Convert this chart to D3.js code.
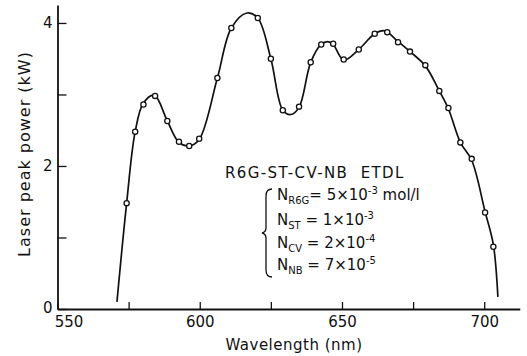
<!DOCTYPE html>
<html>
<head>
<meta charset="utf-8">
<script src="https://cdn.jsdelivr.net/npm/d3@7"></script>
<style>
body { margin: 0; background: #fff; }
text { font-family: "DejaVu Sans", sans-serif; fill: #111; }
</style>
</head>
<body>
<svg id="chart" width="527" height="356"></svg>
<script>
// measured points (open circles)
var wavelength = [574.3, 577.3, 580.2, 584.3, 588.6, 592.7, 596.3, 599.8, 606.2, 611.1,
    620.4, 625.0, 629.2, 634.9, 639.0, 642.7, 646.9, 650.6, 655.9, 661.5,
    665.9, 669.7, 673.9, 679.3, 684.2, 687.4, 691.6, 695.6, 700.3, 703.2];
var power = [1.48, 2.48, 2.86, 2.98, 2.63, 2.34, 2.28, 2.38, 3.23, 3.93,
    4.07, 3.50, 2.78, 2.83, 3.45, 3.70, 3.71, 3.49, 3.63, 3.85,
    3.87, 3.73, 3.60, 3.41, 3.05, 2.81, 2.33, 2.10, 1.35, 0.87];

// drawn curve
var fitWavelength = [570.9, 574.3, 577.3, 580.2, 584.0, 588.6, 592.7, 596.3, 599.8, 606.2,
    611.1, 616.6, 620.4, 625.0, 629.2, 632.0, 634.9, 639.0, 642.7, 645.0,
    646.9, 650.6, 655.9, 661.5, 665.0, 669.7, 673.9, 679.3, 684.2, 687.4,
    691.6, 695.6, 700.3, 703.2, 704.8];
var fitPower = [0.10, 1.48, 2.48, 2.88, 2.99, 2.63, 2.33, 2.28, 2.37, 3.23,
    3.93, 4.14, 4.07, 3.50, 2.78, 2.72, 2.82, 3.45, 3.70, 3.74,
    3.70, 3.48, 3.63, 3.85, 3.89, 3.74, 3.60, 3.40, 3.05, 2.80,
    2.33, 2.08, 1.36, 0.90, 0.17];

var xTicks = [550, 575, 600, 625, 650, 675, 700];
var xLabels = [550, 600, 650, 700];
var yTicks = [0, 1, 2, 3, 4];
var yLabels = [0, 2, 4];

var dyeNames = ["R6G", "ST", "CV", "NB"];
var dyeMantissa = ["5", "1", "2", "7"];
var dyeExponent = ["-3", "-3", "-4", "-5"];

var svg = d3.select("#chart");

var x = d3.scaleLinear().domain([550, 712.5]).range([57.5, 519.8]);
var y = d3.scaleLinear().domain([0, 4.25]).range([309, 5.1]);

// axes
var gx = svg.append("g")
    .attr("transform", "translate(0," + y(0) + ")")
    .call(d3.axisBottom(x).tickValues(xTicks).tickSizeInner(-7).tickSizeOuter(0).tickPadding(7)
        .tickFormat(function(d) { return xLabels.indexOf(d) >= 0 ? d : ""; }));
var gy = svg.append("g")
    .attr("transform", "translate(" + x(550) + ",0)")
    .call(d3.axisLeft(y).tickValues(yTicks).tickSizeInner(-9).tickSizeOuter(0).tickPadding(5)
        .tickFormat(function(d) { return yLabels.indexOf(d) >= 0 ? d : ""; }));

svg.selectAll(".domain").attr("stroke", "#111").attr("stroke-width", 1.8);
svg.selectAll(".tick line").attr("stroke", "#111").attr("stroke-width", 1.3);
svg.selectAll(".tick text")
    .style("font-family", '"DejaVu Sans", sans-serif')
    .style("font-size", "15px")
    .attr("fill", "#111");
// 550 label sits to the right of the corner
gx.selectAll(".tick text").filter(function(d) { return d === 550; }).attr("dx", 11);
gy.selectAll(".tick text").filter(function(d) { return d === 0; }).attr("dy", "0.25em");

// curve
var line = d3.line()
    .x(function(d, i) { return x(fitWavelength[i]); })
    .y(function(d) { return y(d); })
    .curve(d3.curveCatmullRom.alpha(0.5));

svg.append("path")
    .datum(fitPower)
    .attr("d", line)
    .attr("fill", "none")
    .attr("stroke", "#111")
    .attr("stroke-width", 1.7);

svg.append("g").selectAll("circle")
    .data(power)
    .enter()
    .append("circle")
    .attr("cx", function(d, i) { return x(wavelength[i]); })
    .attr("cy", function(d) { return y(d); })
    .attr("r", 2.6)
    .attr("fill", "#fff")
    .attr("stroke", "#111")
    .attr("stroke-width", 1.3);

// axis titles
svg.append("text")
    .attr("x", 294)
    .attr("y", 350)
    .attr("text-anchor", "middle")
    .style("font-size", "15px")
    .style("letter-spacing", "0.5px")
    .text("Wavelength (nm)");

svg.append("text")
    .attr("transform", "translate(30,154) rotate(-90)")
    .attr("text-anchor", "middle")
    .style("font-size", "16px")
    .style("letter-spacing", "1px")
    .text("Laser peak power (kW)");

// annotation
svg.append("text")
    .attr("x", 225)
    .attr("y", 178)
    .style("font-size", "15px")
    .style("letter-spacing", "1.4px")
    .text("R6G-ST-CV-NB\u00a0\u00a0ETDL");

var baselines = [200, 225, 248, 270];
dyeNames.forEach(function(name, i) {
    var t = svg.append("text")
        .attr("x", 277)
        .attr("y", baselines[i])
        .style("font-size", "15px");
    t.append("tspan").text("N");
    t.append("tspan").attr("dy", 4).style("font-size", "10px").text(name);
    t.append("tspan").attr("dy", -4).text((name.length < 3 ? "\u00a0" : "") + "= " + dyeMantissa[i] + "×10");
    t.append("tspan").attr("dy", -6).style("font-size", "10px").text(dyeExponent[i]);
    if (i === 0) t.append("tspan").attr("dy", 6).text(" mol/l");
});

svg.append("path")
    .attr("d", "M272,189 Q266,189 266,196 L266,228 Q266,232 262,233 Q266,234 266,238 L266,270 Q266,277 272,277")
    .attr("fill", "none")
    .attr("stroke", "#111")
    .attr("stroke-width", 1.3);
</script>
</body>
</html>
